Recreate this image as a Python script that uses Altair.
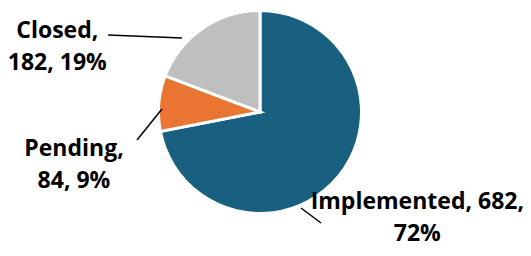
import altair as alt
import pandas as pd

categories = ["Implemented", "Pending", "Closed"]
values = [682, 84, 182]
colors = ["#185F80", "#EA7431", "#BFBFBF"]
first_line_words = [2, 1, 1]

total = sum(values)
rows = []
cum = 0
for i, (c, v, k) in enumerate(zip(categories, values, first_line_words)):
    pct = round(v / total * 100)
    words = f"{c}, {v}, {pct}%".split(" ")
    label = " ".join(words[:k]) + "\n" + " ".join(words[k:])
    rows.append({"idx": i, "category": c, "value": v, "mid": cum + v / 2, "label": label})
    cum += v
df = pd.DataFrame(rows)

theta_scale = alt.Scale(domain=[0, total])
color_scale = alt.Scale(domain=categories, range=colors)

pie = alt.Chart(df).mark_arc(outerRadius=101.5, stroke="white", strokeWidth=3).encode(
    theta=alt.Theta("value:Q", stack=True, scale=theta_scale),
    color=alt.Color("category:N", scale=color_scale, legend=None),
    order=alt.Order("idx:Q"),
)

# label nudges (dx, dy, lineHeight) from the mid-angle anchor, and leader lines (view px)
nudges = {"Implemented": (57, 14.8, 31.5), "Pending": (-56.5, 55, 32.5), "Closed": (-129, 33, 32.5)}
leaders = {
    "Implemented": (293, 200, 313, 215),
    "Pending": (129, 132, 154, 101),
    "Closed": (100, 27, 174, 30),
}

layers = [pie]
for c in categories:
    dx, dy, lh = nudges[c]
    t = alt.Chart(df).transform_filter(alt.datum.category == c).mark_text(
        radius=130, dx=dx, dy=dy, align="center", baseline="alphabetic",
        font="Open Sans", fontWeight="bold", fontSize=23, lineBreak="\n",
        lineHeight=lh, color="black",
    ).encode(
        theta=alt.Theta("mid:Q", scale=theta_scale),
        text="label:N",
    )
    x1, y1, x2, y2 = leaders[c]
    r = alt.Chart(df).transform_filter(alt.datum.category == c).mark_rule(
        color="black", strokeWidth=1.5
    ).encode(x=alt.value(x1), y=alt.value(y1), x2=alt.value(x2), y2=alt.value(y2))
    layers += [t, r]

chart = alt.layer(*layers).properties(
    width=504, height=208, autosize="none",
    padding={"left": 0, "top": 0, "right": 11, "bottom": 32},
).configure_view(stroke=None)

chart.save("out.html", embed_options={"renderer": "svg", "actions": False})
